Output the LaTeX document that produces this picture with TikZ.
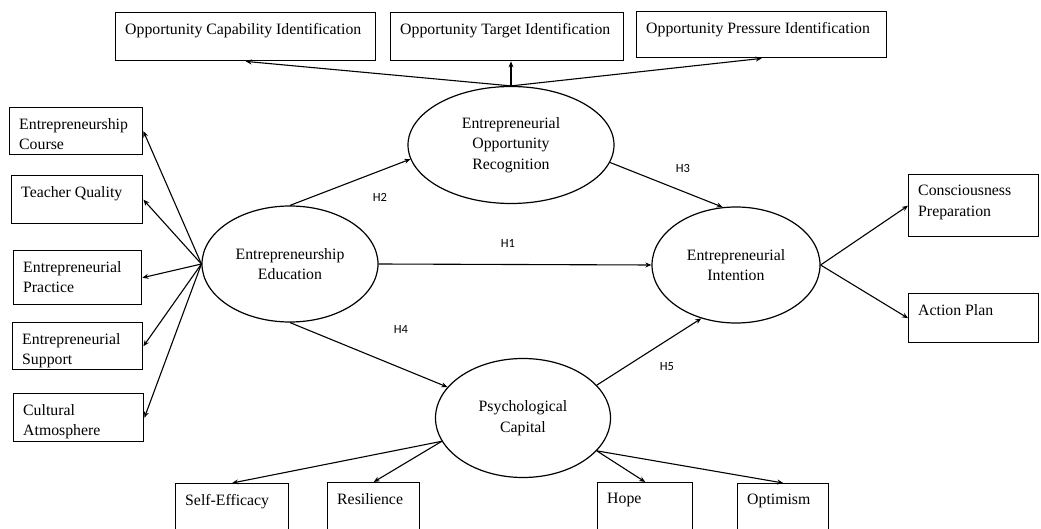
\documentclass[tikz,border=0pt]{standalone}
\usepackage{fontspec}
\setmainfont{Liberation Serif}
\newfontfamily\hypfont{Carlito}
\usetikzlibrary{shapes.geometric, arrows.meta}

\tikzset{
  latent/.style = {shape = ellipse, draw, line width = 1.2pt, inner sep = 0pt,
                   align = center, font = \fontsize{15.8}{20.5}\selectfont},
  indicator/.style = {shape = rectangle, draw, line width = 1.4pt, inner sep = 0pt,
                      anchor = north west},
  indtext/.style = {anchor = north west, inner xsep = 10pt, inner ysep = 11pt,
                    align = left, font = \fontsize{15.8}{20.5}\selectfont},
  link/.style = {-{Stealth[length = 6pt, width = 5pt]}, line width = 1.1pt},
  hyp/.style = {font = \hypfont\fontsize{12.5}{14}\selectfont}
}

\begin{document}
\begin{tikzpicture}[x = 1pt, y = -1pt]
  \useasboundingbox (0, 0) rectangle (1041, 529);

  \node [latent, minimum width = 176, minimum height = 116] (ee) at (290, 264)
        {Entrepreneurship\\Education};
  \node [latent, minimum width = 206, minimum height = 117] (eor) at (511, 145)
        {Entrepreneurial\\Opportunity\\Recognition};
  \node [latent, minimum width = 168, minimum height = 116] (ei) at (736, 265)
        {Entrepreneurial\\Intention};
  \node [latent, minimum width = 175, minimum height = 119] (pc) at (523, 418)
        {Psychological\\Capital};

  \foreach \name/\px/\py/\bw/\bh/\btxt in {
    edu1/9/107/133/47/{Entrepreneurship\\Course},
    edu2/11/175/131/48/{Teacher Quality},
    edu3/13/250/128/54/{Entrepreneurial\\Practice},
    edu4/12/322/130/47/{Entrepreneurial\\Support},
    edu5/13/393/130/48/{Cultural\\Atmosphere},
    opp1/115/12/260/48/{Opportunity Capability Identification},
    opp2/390/12/233/48/{Opportunity Target Identification},
    opp3/636/11/250/46/{Opportunity Pressure Identification},
    cap1/175/483/113/60/{Self-Efficacy},
    cap2/327/482/92/60/{Resilience},
    cap3/597/482/95/60/{Hope},
    cap4/737/483/91/60/{Optimism},
    int1/908/174/130/62/{Consciousness\\Preparation},
    int2/908/293/130/49/{Action Plan}
  } {
    \node [indicator, minimum width = \bw, minimum height = \bh] (\name) at (\px, \py) {};
    \node [indtext] (\name-t) at (\name.north west) {\btxt};
  }

  \foreach \n in {1, ..., 5}
    \draw [link] (ee.west) -- (edu\n.east);
  \foreach \n in {1, 2}
    \draw [link] (ei.east) -- (int\n.west);

  \draw [link] (eor.north) -- (opp1.south);
  \draw [link] (eor.north) -- (eor.north |- opp2.south);
  \draw [link] (eor.north) -- (opp3.south);

  \draw [link] (pc.196) -- (cap1.north);
  \draw [link] (pc.196) -- (cap2.north);
  \draw [link] (pc.336) -- (cap3.north);
  \draw [link] (pc.336) -- (cap4.north);

  \draw [link] (ee.east) -- (ei.west);
  \draw [link] (ee.north) -- (eor.188);
  \draw [link] (eor.350) -- (ei.103);
  \draw [link] (ee.south) -- (pc);
  \draw [link] (pc.24) -- (ei.237);

  \foreach \px/\py/\hy in {508/243/1, 380/197/2, 683/168/3, 401/329/4, 667/367/5}
    \node [hyp] (h\hy) at (\px, \py) {H\hy};
\end{tikzpicture}
\end{document}
